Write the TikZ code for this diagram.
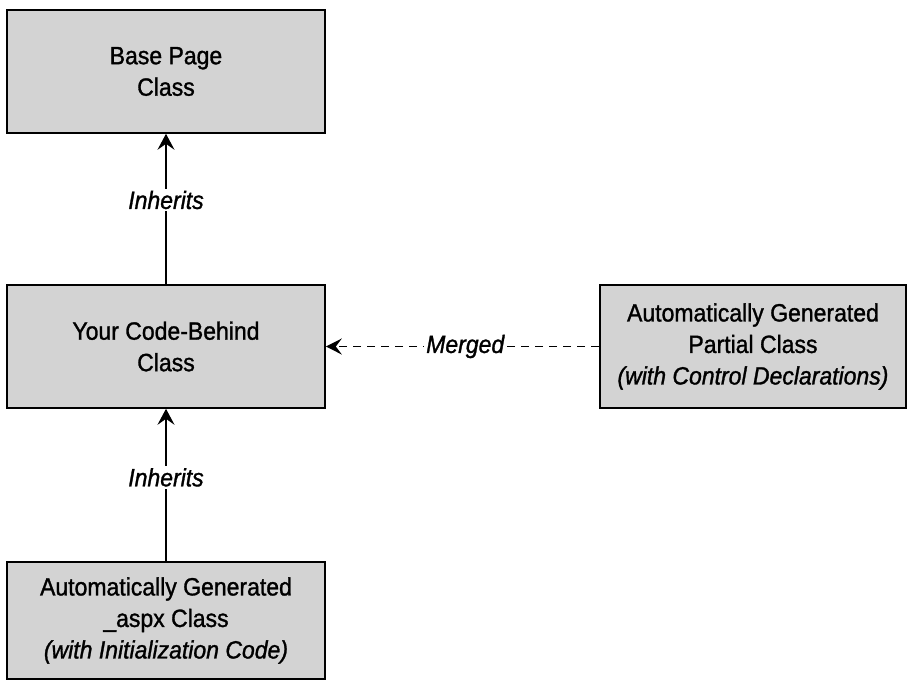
\documentclass[tikz,border=0pt]{standalone}
\usepackage{fontspec}
\setmainfont{Liberation Sans}[FakeStretch=0.92, FakeBold=1.2]
\usetikzlibrary{arrows.meta}

\definecolor{boxgray}{RGB}{211,211,211}

\tikzset{
	classbox/.style={draw, line width=1.6pt, fill=boxgray, inner sep=0pt, align=center,
		font=\fontsize{25}{31.5}\selectfont},
	inherit/.style={line width=1.8pt, -{Stealth[length=16pt,width=17pt,inset=6pt]}},
	merge/.style={line width=1.8pt, dash pattern=on 8pt off 6pt, -{Stealth[length=16pt,width=16pt,inset=6pt]}},
	edgetext/.style={fill=white, inner sep=2pt, font=\fontsize{25}{28}\selectfont\itshape}
}

\begin{document}
\begin{tikzpicture}[x=1pt,y=1pt]

	\useasboundingbox (0,0) rectangle (908,-680);
	
	% classes
	\node [classbox, minimum width=318, minimum height=123] (base) at (166,-71.5) {Base Page\\Class};
	\node [classbox, minimum width=318, minimum height=123] (codebehind) at (166,-346.5) {Your Code-Behind\\Class};
	\node [classbox, minimum width=318, minimum height=117] (aspx) at (166,-620.5) {Automatically Generated\\\_aspx Class\\{\itshape (with Initialization Code)}};
	\node [classbox, minimum width=306, minimum height=123] (partial) at (753,-346.5) {Automatically Generated\\Partial Class\\{\itshape (with Control Declarations)}};
	
	% connectors
	\draw [inherit] (codebehind) -- node[edgetext, pos=0.56] (inh1) {Inherits} (base);
	\draw [inherit] (aspx) -- node[edgetext, pos=0.55] (inh2) {Inherits} (codebehind);
	\draw [merge] (partial) -- node[edgetext, pos=0.49] (mrg) {Merged} (codebehind);
\end{tikzpicture}
\end{document}
